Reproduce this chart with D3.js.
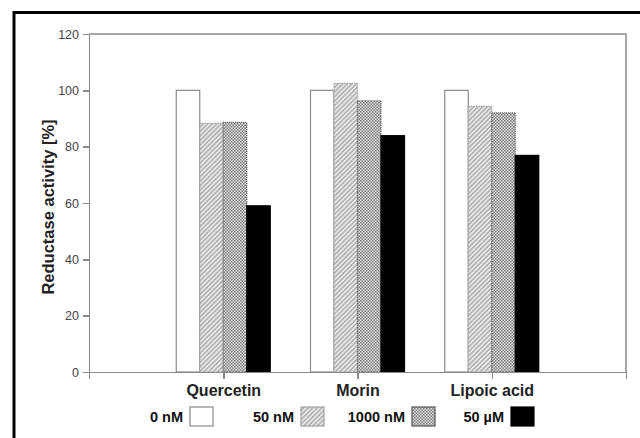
<!DOCTYPE html>
<html lang="en">
<head>
  <meta charset="UTF-8">
  <title>Reductase activity</title>
  <style>
    body { margin: 0; background: #fff; }
    svg text { font-family: "Liberation Sans", Arial, sans-serif; }
    .axis path, .axis line { stroke: #8a8a8a; stroke-width: 1.5; shape-rendering: crispEdges; }
    .axis text { fill: #444; font-size: 12.5px; }
    .xaxis text { fill: #222; font-size: 16px; font-weight: bold; }
  </style>
  <script src="https://d3js.org/d3.v7.min.js"></script>
</head>
<body>
  <svg id="chart" width="640" height="438"></svg>
  <script>
    // Data
    const categories = ["Quercetin", "Morin", "Lipoic acid"];
    const series = ["0 nM", "50 nM", "1000 nM", "50 \u00b5M"];
    const values0nM = [100, 100, 100];
    const values50nM = [88.3, 102.5, 94.3];
    const values1000nM = [88.6, 96.3, 92.0];
    const values50uM = [59.0, 83.9, 76.9];
    const yTicks = [0, 20, 40, 60, 80, 100, 120];

    const seriesValues = [values0nM, values50nM, values1000nM, values50uM];

    // Layout
    const plotLeft = 89, plotRight = 626, plotTop = 34, plotBottom = 372;
    const svg = d3.select("#chart");

    // Patterns for the bar fills
    const defs = svg.append("defs");
    const hatch = defs.append("pattern")
      .attr("id", "hatch")
      .attr("patternUnits", "userSpaceOnUse")
      .attr("width", 3.2).attr("height", 3.2)
      .attr("patternTransform", "rotate(45)");
    hatch.append("rect").attr("width", 3.2).attr("height", 3.2).attr("fill", "#e8e8e8");
    hatch.append("line").attr("x1", 0.8).attr("y1", 0).attr("x2", 0.8).attr("y2", 3.2)
      .attr("stroke", "#9a9a9a").attr("stroke-width", 1.1);

    const dots = defs.append("pattern")
      .attr("id", "dots")
      .attr("patternUnits", "userSpaceOnUse")
      .attr("width", 3).attr("height", 3);
    dots.append("rect").attr("width", 3).attr("height", 3).attr("fill", "#e2e2e2");
    dots.append("rect").attr("width", 1.5).attr("height", 1.5).attr("fill", "#7a7a7a");
    dots.append("rect").attr("x", 1.5).attr("y", 1.5).attr("width", 1.5).attr("height", 1.5).attr("fill", "#7a7a7a");

    const fills = ["#fff", "url(#hatch)", "url(#dots)", "#000"];
    const strokes = ["#8a8a8a", "#a0a0a0", "#555", "#000"];
    const dashes = [null, "1.5,1", "1,1", null];

    // Outer frame (only top and left visible in the figure)
    svg.append("rect")
      .attr("x", 14).attr("y", 12.5)
      .attr("width", 700).attr("height", 600)
      .attr("fill", "none").attr("stroke", "#000").attr("stroke-width", 3);

    // Scales
    const x = d3.scaleLinear().domain([0, 4]).range([plotLeft, plotRight]);
    const y = d3.scaleLinear().domain([0, 120]).range([plotBottom, plotTop]);
    const inner = d3.scaleBand().domain(series).range([-47, 47]);

    // Plot box top/right
    svg.append("path")
      .attr("d", `M${plotLeft},${plotTop}H${plotRight}V${plotBottom}`)
      .attr("fill", "none").attr("stroke", "#8a8a8a").attr("stroke-width", 1.5);

    // Bars
    series.forEach((s, si) => {
      svg.append("g").selectAll("rect")
        .data(seriesValues[si])
        .enter().append("rect")
        .attr("x", (d, i) => x(i + 1) + inner(s))
        .attr("y", d => y(d))
        .attr("width", inner.bandwidth())
        .attr("height", d => y(0) - y(d))
        .attr("fill", fills[si])
        .attr("stroke", strokes[si])
        .attr("stroke-width", 1.2)
        .attr("stroke-dasharray", dashes[si]);
    });

    // Axes
    svg.append("g")
      .attr("class", "axis")
      .attr("transform", `translate(${plotLeft},0)`)
      .call(d3.axisLeft(y).tickValues(yTicks).tickSize(6).tickPadding(4).tickSizeOuter(0));

    svg.append("g")
      .attr("class", "axis xaxis")
      .attr("transform", `translate(0,${plotBottom})`)
      .call(d3.axisBottom(x).tickValues([0, 1, 2, 3, 4]).tickSize(7).tickSizeOuter(0)
        .tickPadding(6)
        .tickFormat(i => categories[i - 1] || ""));

    // Y axis title
    svg.append("text")
      .attr("transform", `translate(54,${(plotTop + plotBottom) / 2 + 4}) rotate(-90)`)
      .attr("text-anchor", "middle")
      .attr("font-size", "16.5px")
      .attr("font-weight", "bold")
      .attr("fill", "#222")
      .text("Reductase activity [%]");

    // Legend
    const legendBoxX = [190, 301, 412, 511];
    const legend = svg.append("g");
    series.forEach((s, si) => {
      legend.append("text")
        .attr("x", legendBoxX[si] - 7)
        .attr("y", 422)
        .attr("text-anchor", "end")
        .attr("font-size", "14.5px")
        .attr("font-weight", "bold")
        .attr("fill", "#111")
        .text(s);
      legend.append("rect")
        .attr("x", legendBoxX[si]).attr("y", 407)
        .attr("width", 23).attr("height", 19)
        .attr("fill", fills[si])
        .attr("stroke", strokes[si])
        .attr("stroke-width", 1.2);
    });
  </script>
</body>
</html>
